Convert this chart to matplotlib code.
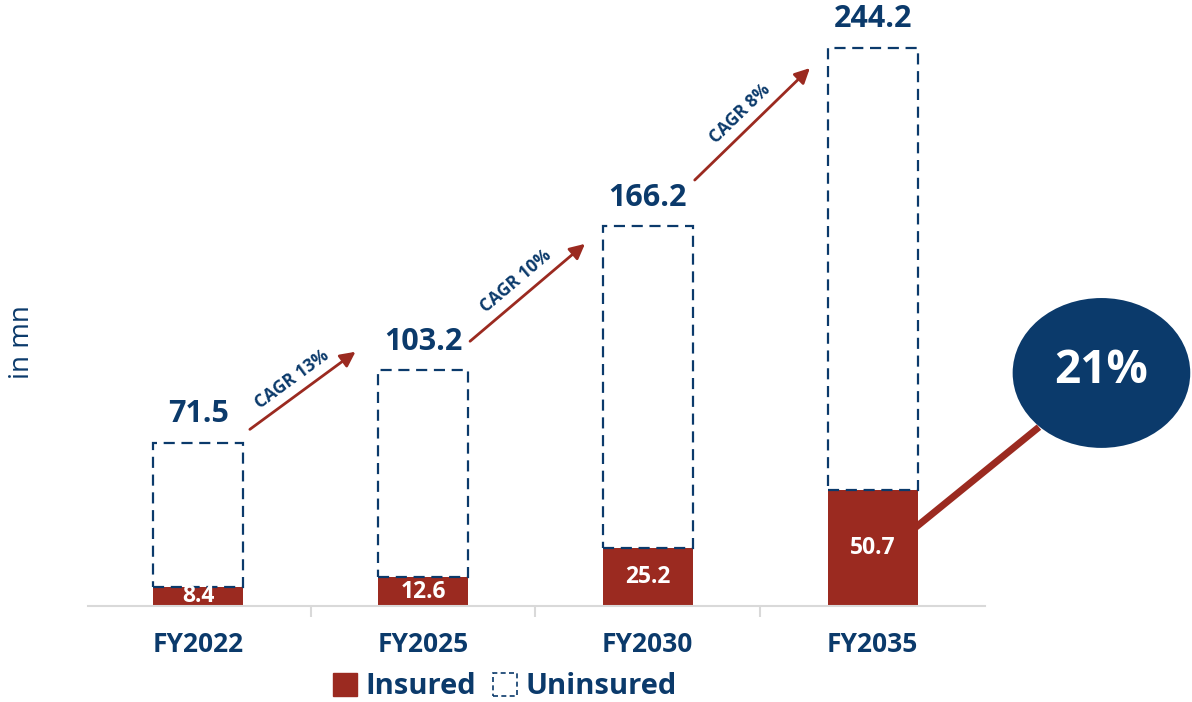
import math
import matplotlib.pyplot as plt
from matplotlib.patches import Patch, Ellipse

plt.rcParams['font.family'] = ['Open Sans', 'DejaVu Sans']

# Data (in mn)
years = ["FY2022", "FY2025", "FY2030", "FY2035"]
totals = [71.5, 103.2, 166.2, 244.2]
insured = [8.4, 12.6, 25.2, 50.7]
cagr_labels = ["CAGR 13%", "CAGR 10%", "CAGR 8%"]
share_label = "21%"

blue = "#0B3A6B"
red = "#9B2A20"
grey = "#D9D9D9"

fig = plt.figure(figsize=(11.92, 7.02), dpi=100)
ax = fig.add_axes([88 / 1192, 96 / 702, 897 / 1192, 594 / 702])
ax.set_xlim(-0.49, 3.5)
ax.set_ylim(0, 260)

x = list(range(len(years)))
uninsured = [t - i for t, i in zip(totals, insured)]

ax.bar(x, insured, width=0.4, color=red, zorder=2)
ax.bar(x, uninsured, bottom=insured, width=0.4, facecolor="none",
       edgecolor=blue, linestyle=(0, (5, 3)), linewidth=1.6, zorder=3)

# Value labels
for xi, t, i in zip(x, totals, insured):
    ax.text(xi, t + 6, f"{t}", ha="center", va="bottom", fontsize=22,
            fontweight="bold", color=blue)
    ax.text(xi, i / 2, f"{i}", ha="center", va="center", fontsize=16.5,
            fontweight="bold", color="white", zorder=4)

# CAGR arrows between bars (start/end in data units)
arrow_start = [(0.22, 76.6), (1.20, 115.1), (2.20, 185.6)]
arrow_end = [(0.71, 112.0), (1.73, 159.3), (2.73, 236.3)]
for (x0, y0), (x1, y1), lab in zip(arrow_start, arrow_end, cagr_labels):
    ax.annotate("", xy=(x1, y1), xytext=(x0, y0),
                arrowprops=dict(arrowstyle="-|>,head_length=0.9,head_width=0.45",
                                color=red, lw=2))
    p0 = ax.transData.transform((x0, y0))
    p1 = ax.transData.transform((x1, y1))
    ang = math.degrees(math.atan2(p1[1] - p0[1], p1[0] - p0[0]))
    mx, my = (x0 + x1) / 2, (y0 + y1) / 2
    ax.annotate(lab, xy=(mx, my), xytext=(-4, 3), textcoords="offset points",
                rotation=ang, rotation_mode="anchor", ha="center", va="bottom",
                fontsize=12.5, fontweight="bold", color=blue)

# Share callout
ax.plot([3.16, 3.74], [31.9, 78.3], color=red, lw=5, solid_capstyle="butt",
        zorder=4, clip_on=False)
ell = Ellipse((4.018, 102.0), 0.79, 65.6, facecolor=blue, edgecolor="none",
              zorder=5, clip_on=False)
ax.add_patch(ell)
ax.text(4.018, 103, share_label, ha="center", va="center", fontsize=33,
        fontweight="bold", color="white", zorder=6, clip_on=False)

ax.set_xticks(x)
ax.set_xticklabels(years, fontsize=19, fontweight="bold", color=blue)
ax.set_xticks([0.5, 1.5, 2.5], minor=True)
ax.tick_params(axis="x", which="major", length=0, pad=18)
ax.tick_params(axis="x", which="minor", length=8, color=grey, width=1.5)
ax.set_yticks([])
for s in ["top", "right", "left"]:
    ax.spines[s].set_visible(False)
ax.spines["bottom"].set_color(grey)
ax.spines["bottom"].set_linewidth(1.5)

fig.text(22 / 1192, 1 - 342 / 702, "in mn", rotation=90, ha="center",
         va="center", fontsize=20, color=blue)

handles = [Patch(facecolor=red, edgecolor=red),
           Patch(facecolor="white", edgecolor=blue, linestyle=(0, (3, 2)), linewidth=1.2)]
fig.legend(handles, ["Insured", "Uninsured"], loc="center",
           bbox_to_anchor=(505 / 1192, 1 - 687 / 702), ncol=2, frameon=False,
           handlelength=0.8, handleheight=0.8, handletextpad=0.3,
           columnspacing=0.6, prop=dict(size=21, weight="bold"),
           labelcolor=blue)

fig.savefig("out.png", dpi=100)
